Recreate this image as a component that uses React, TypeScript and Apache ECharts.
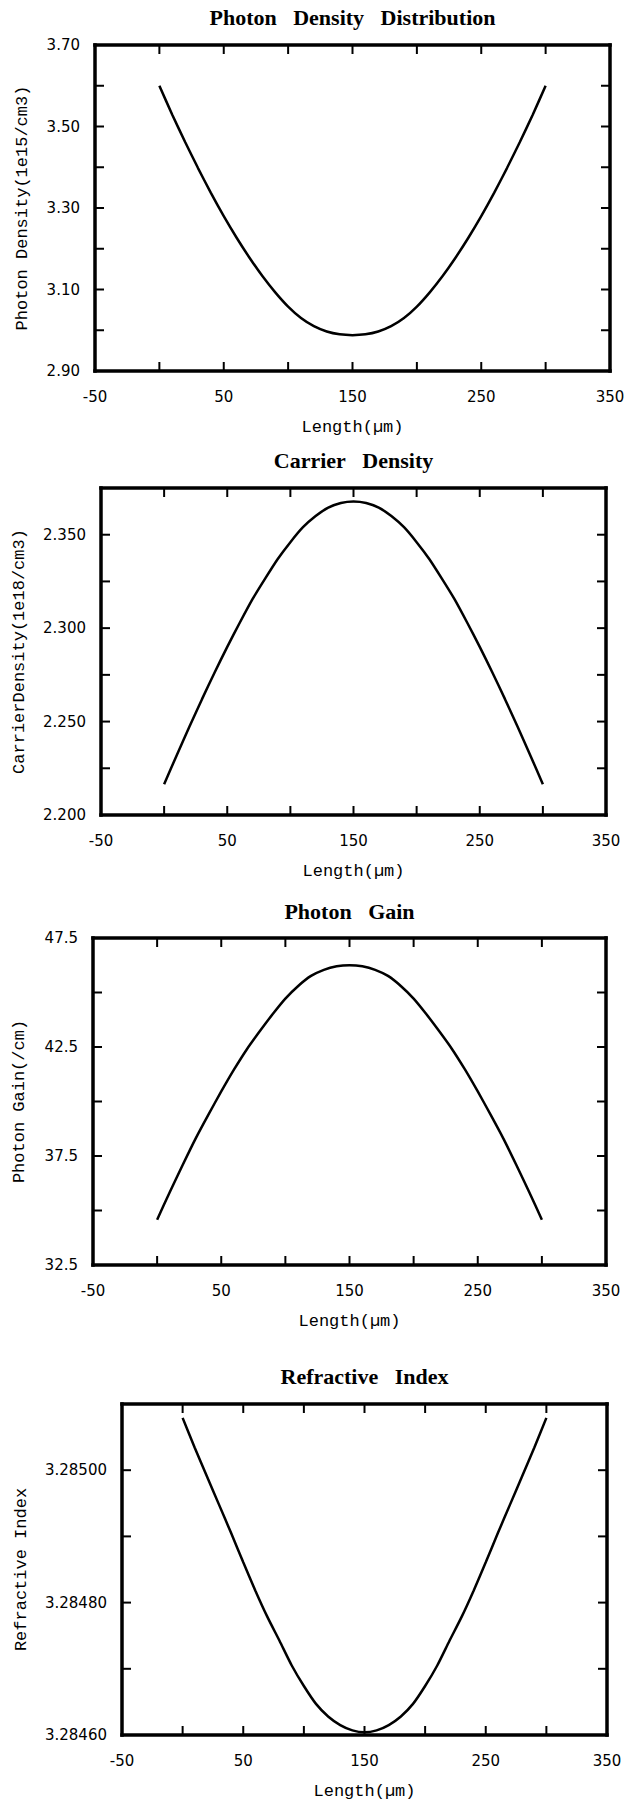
import React, { useEffect, useRef } from "react";
import * as echarts from "echarts";

// Length along the cavity (µm)
const lengthUm = [0, 10, 20, 30, 40, 50, 60, 70, 80, 90, 100, 110, 120, 130, 140, 150, 160, 170, 180, 190, 200, 210, 220, 230, 240, 250, 260, 270, 280, 290, 300];

// Photon density (1e15/cm3)
const photonDensity = [3.600, 3.529, 3.462, 3.398, 3.337, 3.280, 3.227, 3.178, 3.133, 3.093, 3.058, 3.030, 3.010, 2.997, 2.990, 2.988, 2.990, 2.997, 3.010, 3.030, 3.058, 3.093, 3.133, 3.178, 3.227, 3.280, 3.337, 3.398, 3.462, 3.529, 3.600];

// Carrier density (1e18/cm3)
const carrierDensity = [2.2165, 2.2320, 2.2472, 2.2620, 2.2763, 2.2900, 2.3030, 2.3155, 2.3265, 2.3370, 2.3460, 2.3540, 2.3600, 2.3645, 2.3670, 2.3678, 2.3670, 2.3645, 2.3600, 2.3540, 2.3460, 2.3370, 2.3265, 2.3155, 2.3030, 2.2900, 2.2763, 2.2620, 2.2472, 2.2320, 2.2165];

// Photon gain (/cm)
const photonGain = [34.58, 35.86, 37.10, 38.30, 39.40, 40.46, 41.47, 42.40, 43.22, 44.00, 44.72, 45.30, 45.76, 46.04, 46.20, 46.25, 46.20, 46.04, 45.76, 45.30, 44.72, 44.00, 43.22, 42.40, 41.47, 40.46, 39.40, 38.30, 37.10, 35.86, 34.58];

// Refractive index
const refractiveIndex = [3.285079, 3.285034, 3.284991, 3.284948, 3.284905, 3.284861, 3.284818, 3.284778, 3.284742, 3.284705, 3.284674, 3.284647, 3.284628, 3.284615, 3.284607, 3.284604, 3.284607, 3.284615, 3.284628, 3.284647, 3.284674, 3.284705, 3.284742, 3.284778, 3.284818, 3.284861, 3.284905, 3.284948, 3.284991, 3.285034, 3.285079];

const chartTitles = ["Photon\u00a0 \u00a0Density\u00a0 \u00a0Distribution", "Carrier\u00a0 \u00a0Density", "Photon\u00a0 \u00a0Gain", "Refractive\u00a0 \u00a0Index"];
const yNames = ["Photon Density(1e15/cm3)", "CarrierDensity(1e18/cm3)", "Photon Gain(/cm)", "Refractive Index"];
const xName = "Length(\u00b5m)";
const xMin = -50, xMax = 350, xStep = 50;

const panels = [
  { data: photonDensity, min: 2.9, max: 3.7, step: 0.1, dec: 2, left: 95, top: 45, width: 515, height: 326, yGap: 64, titleY: 17 },
  { data: carrierDensity, min: 2.2, max: 2.375, step: 0.025, dec: 3, left: 101, top: 488, width: 505, height: 327, yGap: 73, titleY: 460 },
  { data: photonGain, min: 32.5, max: 47.5, step: 2.5, dec: 1, left: 93, top: 938, width: 513, height: 327, yGap: 65, titleY: 911 },
  { data: refractiveIndex, min: 3.2846, max: 3.2851, step: 0.0001, dec: 5, left: 122, top: 1404, width: 485, height: 331, yGap: 92, titleY: 1376 },
];

const LABEL_FONT = "DejaVu Sans";
const MONO = "Liberation Mono";
const TICK_LEN = 9;

const makeLine = () => ({ show: true, onZero: false, lineStyle: { color: "#000", width: 3.5, cap: "square" } });

export default function App() {
  const ref = useRef<HTMLDivElement>(null);
  useEffect(() => {
    if (!ref.current) return;
    const chart = echarts.init(ref.current, undefined, { renderer: "svg" });
    const grid: any[] = [];
    const xAxis: any[] = [];
    const yAxis: any[] = [];
    const series: any[] = [];
    const graphic: any[] = [];
    panels.forEach((p, i) => {
      grid.push({ left: p.left, top: p.top, width: p.width, height: p.height, show: false, containLabel: false });
      xAxis.push({
        type: "value", gridIndex: i, position: "bottom", min: xMin, max: xMax, interval: xStep,
        axisLine: makeLine(), axisTick: { show: false }, splitLine: { show: false },
        axisLabel: {
          show: true, margin: 18, color: "#000", fontFamily: LABEL_FONT, fontSize: 15,
          formatter: (v: number) => (Math.round((v - xMin) / xStep) % 2 === 0 ? String(v) : ""),
        },
        name: xName, nameLocation: "middle", nameGap: 48,
        nameTextStyle: { fontFamily: MONO, fontSize: 17, color: "#000" },
      });
      xAxis.push({
        type: "value", gridIndex: i, position: "top", min: xMin, max: xMax, interval: xStep,
        axisLine: makeLine(), axisTick: { show: false }, splitLine: { show: false }, axisLabel: { show: false },
      });
      yAxis.push({
        type: "value", gridIndex: i, position: "left", min: p.min, max: p.max, interval: p.step,
        axisLine: makeLine(), axisTick: { show: false }, splitLine: { show: false },
        axisLabel: {
          show: true, margin: 15, color: "#000", fontFamily: LABEL_FONT, fontSize: 15,
          formatter: (v: number) => (Math.round((v - p.min) / p.step) % 2 === 0 ? v.toFixed(p.dec) : ""),
        },
        name: yNames[i], nameLocation: "middle", nameGap: p.yGap, nameRotate: 90,
        nameTextStyle: { fontFamily: MONO, fontSize: 17, color: "#000" },
      });
      yAxis.push({
        type: "value", gridIndex: i, position: "right", min: p.min, max: p.max, interval: p.step,
        axisLine: makeLine(), axisTick: { show: false }, splitLine: { show: false }, axisLabel: { show: false },
      });
      series.push({
        type: "line", xAxisIndex: i * 2, yAxisIndex: i * 2, showSymbol: false, symbol: "none",
        lineStyle: { color: "#000", width: 2.5 }, smooth: 0.2,
        data: lengthUm.map((x, k) => [x, p.data[k]]),
      });
      // inside ticks on all four sides, placed through the axes' own scales
      const nX = Math.round((xMax - xMin) / xStep);
      const nY = Math.round((p.max - p.min) / p.step);
      series.push({
        type: "custom", xAxisIndex: i * 2, yAxisIndex: i * 2, clip: false, silent: true, z: 5,
        data: [[xMin, p.min]],
        renderItem: (params: any, api: any) => {
          const children: any[] = [];
          const fill = { fill: "#000" };
          for (let k = 1; k < nX; k++) {
            const xv = xMin + k * xStep;
            const b = api.coord([xv, p.min]);
            const t = api.coord([xv, p.max]);
            children.push({ type: "rect", shape: { x: b[0] - 1, y: b[1] - TICK_LEN, width: 2, height: TICK_LEN }, style: fill });
            children.push({ type: "rect", shape: { x: t[0] - 1, y: t[1], width: 2, height: TICK_LEN }, style: fill });
          }
          for (let k = 1; k < nY; k++) {
            const yv = p.min + k * p.step;
            const l = api.coord([xMin, yv]);
            const r = api.coord([xMax, yv]);
            children.push({ type: "rect", shape: { x: l[0], y: l[1] - 1, width: TICK_LEN, height: 2 }, style: fill });
            children.push({ type: "rect", shape: { x: r[0] - TICK_LEN, y: r[1] - 1, width: TICK_LEN, height: 2 }, style: fill });
          }
          return { type: "group", children };
        },
      });
      graphic.push({
        type: "text", x: p.left + p.width / 2, y: p.titleY,
        style: { text: chartTitles[i], fill: "#000", font: 'bold 22px "Liberation Serif"', align: "center", verticalAlign: "middle" },
      });
    });
    chart.setOption({ animation: false, backgroundColor: "#fff", grid, xAxis, yAxis, series, graphic });
    return () => chart.dispose();
  }, []);
  return <div ref={ref} style={{ position: "absolute", left: 0, top: 0, width: 631, height: 1801 }} />;
}
